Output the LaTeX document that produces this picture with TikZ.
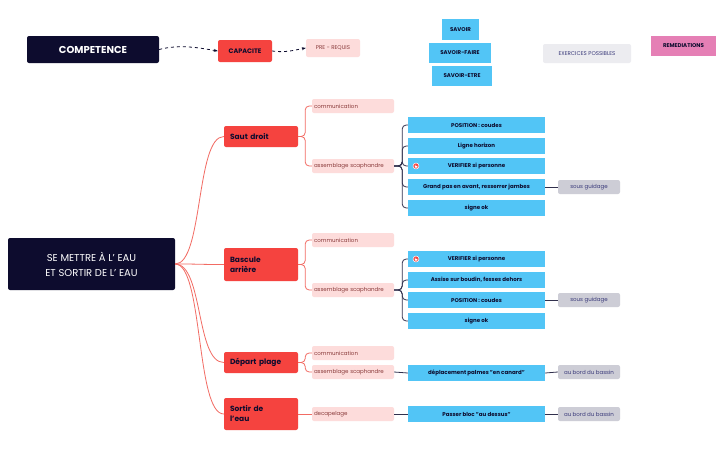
\documentclass[tikz,border=0pt]{standalone}
\usepackage{fontspec}
\setmainfont{Poppins}
\usetikzlibrary{arrows.meta}
\definecolor{navy}{HTML}{0D0C2E}
\definecolor{rd}{HTML}{F5433F}
\definecolor{pk}{HTML}{FDDCDB}
\definecolor{pktxt}{HTML}{8A3B3B}
\definecolor{bl}{HTML}{52C5F6}
\definecolor{gr}{HTML}{CDCDD6}
\definecolor{lgr}{HTML}{ECECF0}
\definecolor{rem}{HTML}{E57FB5}
\definecolor{ln}{HTML}{F26B63}
\definecolor{grtxt}{HTML}{3A3A7A}
\begin{document}
\begin{tikzpicture}[x=1pt,y=-1pt,
 dk/.style={fill=navy,text=white,rounded corners=2pt,inner sep=0pt,font=\bfseries\fontsize{10}{12}\selectfont},
 red/.style={fill=rd,text=navy,rounded corners=2pt,inner sep=0pt,minimum width=74pt,align=left,text width=62pt,font=\fontsize{7.5}{10}\selectfont\bfseries},
 pink/.style={fill=pk,text=pktxt,rounded corners=2pt,inner sep=0pt,minimum width=82pt,minimum height=14pt,text width=78pt,align=left,font=\fontsize{5.5}{6}\selectfont},
 blue/.style={fill=bl,text=navy,inner sep=0pt,minimum width=137pt,minimum height=16pt,font=\bfseries\fontsize{5.5}{6}\selectfont},
 gray/.style={fill=gr,text=grtxt,rounded corners=2pt,inner sep=0pt,minimum width=62pt,minimum height=14pt,font=\fontsize{5.5}{6}\selectfont},
 top/.style={fill=bl,text=navy,inner sep=0pt,minimum height=20pt,font=\bfseries\fontsize{5.5}{6}\selectfont},
 rl/.style={draw=ln,line width=0.8pt},
 nl/.style={draw=navy!85,line width=0.8pt,rounded corners=4pt},
 flag/.style={circle,fill=rd,draw=white,line width=0.5pt,inner sep=0pt,minimum size=6pt}]
\useasboundingbox (0,0) rectangle (726,450);
\fill[white] (0,0) rectangle (726,450);
% header
\node[dk,minimum width=132pt,minimum height=27pt] (comp) at (93,49.5) {COMPETENCE};
\node[fill=rd,text=navy,rounded corners=2pt,inner sep=0pt,minimum width=54pt,minimum height=22pt,font=\bfseries\fontsize{6.5}{8}\selectfont] (cap) at (245,51) {CAPACITE};
\node[fill=pk,text=pktxt,rounded corners=2pt,inner sep=0pt,minimum width=54pt,minimum height=18pt,font=\fontsize{5.5}{6}\selectfont] (pre) at (333,48) {PRE - REQUIS};
\node[top,minimum width=37pt,minimum height=21pt] (sav) at (460.5,29.5) {SAVOIR};
\node[top,minimum width=62pt] (sf) at (460,53) {SAVOIR-FAIRE};
\node[top,minimum width=60pt] (se) at (462,76) {SAVOIR-ETRE};
\node[fill=lgr,text=grtxt,rounded corners=2pt,inner sep=0pt,minimum width=88pt,minimum height=19pt,font=\fontsize{5.5}{6}\selectfont] (ex) at (587,53.5) {EXERCICES POSSIBLES};
\node[fill=rem,text=navy,inner sep=0pt,minimum width=65pt,minimum height=20pt,font=\bfseries\fontsize{5.5}{6}\selectfont] (remd) at (683.5,46) {REMEDIATIONS};
\draw[navy,line width=0.8pt,dashed,-{Stealth[length=4pt]}] (comp.east) .. controls (180,44) and (200,48) .. (cap.west);
\draw[navy,line width=0.8pt,dashed,-{Stealth[length=4pt]}] (cap.east) .. controls (285,53) and (295,50) .. (pre.west);
% root
\node[dk,minimum width=167pt,minimum height=52pt,align=center,font=\fontsize{10}{15}\selectfont] (root) at (91.5,264) {SE METTRE À L' EAU\\ET SORTIR DE L' EAU};
\node[red,minimum height=21pt] (s1) at (261,136.5) {Saut droit};
\node[red,minimum height=33pt] (s2) at (261,264.5) {Bascule\\arrière};
\node[red,minimum height=21pt] (s3) at (261,362.5) {Départ plage};
\node[red,minimum height=32pt] (s4) at (261,414) {Sortir de\\l'eau};
\foreach \n in {s1,s2,s3,s4}
  \draw[rl] (root.east) .. controls +(28,0) and ([xshift=-28pt]\n.west) .. (\n.west);
% pink
\node[pink] (c1) at (353,106) {communication};
\node[pink] (a1) at (353,166) {assemblage scaphandre};
\node[pink] (c2) at (353,240) {communication};
\node[pink] (a2) at (353,290) {assemblage scaphandre};
\node[pink] (c3) at (353,353) {communication};
\node[pink] (a3) at (353,372) {assemblage scaphandre};
\node[pink] (d4) at (353,414) {decapelage};
\foreach \p/\c in {s1/c1,s1/a1,s2/c2,s2/a2,s3/c3,s3/a3}
  \draw[rl,rounded corners=4pt] (\p.east) -- ++(7,0) |- (\c.west);
\draw[rl] (s4.east) -- (d4.west);
% blue
\node[blue] (b1) at (476.5,125) {POSITION : coudes};
\node[blue] (b2) at (476.5,146) {Ligne horizon};
\node[blue] (b3) at (476.5,166) {VERIFIER si personne};
\node[blue] (b4) at (476.5,187) {Grand pas en avant, resserrer jambes};
\node[blue] (b5) at (476.5,208) {signe ok};
\node[blue] (e1) at (476.5,259) {VERIFIER si personne};
\node[blue] (e2) at (476.5,280) {Assise sur boudin, fesses dehors};
\node[blue] (e3) at (476.5,300) {POSITION : coudes};
\node[blue] (e4) at (476.5,321) {signe ok};
\node[blue] (f1) at (476.5,373) {déplacement palmes "en canard"};
\node[blue] (g1) at (476.5,414) {Passer bloc "au dessus"};
\node[flag] (fl1) at (416,166) {};
\node[flag] (fl2) at (416,259) {};
\foreach \f in {fl1,fl2}
  \fill[white] ([xshift=-1.2pt,yshift=-1.5pt]\f.center) rectangle ++(0.5pt,3pt) ([xshift=-0.7pt,yshift=-1.5pt]\f.center) rectangle ++(2pt,1.6pt);
\foreach \b in {b1,b2,b3,b4,b5}
  \draw[nl] (a1.east) -- ++(8,0) |- (\b.west);
\foreach \b in {e1,e2,e3,e4}
  \draw[nl] (a2.east) -- ++(8,0) |- (\b.west);
\draw[nl] (a3.east) -- (f1.west);
\draw[nl] (d4.east) -- (g1.west);
% gray
\node[gray] (h1) at (589,187) {sous guidage};
\node[gray] (h2) at (589,300) {sous guidage};
\node[gray] (h3) at (589,372) {au bord du bassin};
\node[gray] (h4) at (589,414) {au bord du bassin};
\draw[nl] (b4.east) -- (h1.west);
\draw[nl] (e3.east) -- (h2.west);
\draw[nl] (f1.east) -- (h3.west);
\draw[nl] (g1.east) -- (h4.west);
\end{tikzpicture}
\end{document}
